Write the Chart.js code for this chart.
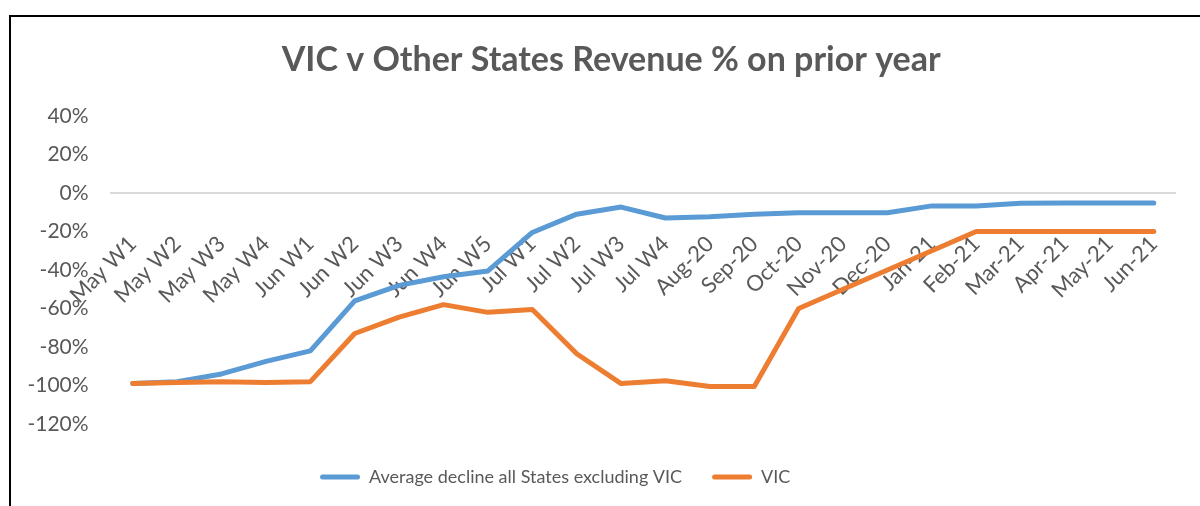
<!DOCTYPE html>
<html>
<head>
<meta charset="utf-8">
<script src="https://cdn.jsdelivr.net/npm/chart.js@4/dist/chart.umd.min.js"></script>
<style>
  html, body { margin: 0; padding: 0; background: #fff; overflow: hidden; }
  #frame { position: absolute; left: 9px; top: 15px; width: 1300px; height: 600px;
           border-top: 2px solid #000; border-left: 2px solid #000; }
  #myChart { position: absolute; left: 11px; top: 17px; }
</style>
</head>
<body>
<div id="frame"></div>
<canvas id="myChart" width="1200" height="520"></canvas>
<script>
const xLabels = [
    "May W1", "May W2", "May W3", "May W4", "Jun W1", "Jun W2", "Jun W3", "Jun W4", "Jun W5",
    "Jul W1", "Jul W2", "Jul W3", "Jul W4", "Aug-20", "Sep-20", "Oct-20", "Nov-20", "Dec-20",
    "Jan-21", "Feb-21", "Mar-21", "Apr-21", "May-21", "Jun-21"
];
const otherStates = [
    -99, -98, -94, -87.5, -82, -56, -48, -43.5, -40.5,
    -20.5, -11, -7.3, -13, -12.4, -11, -10.3, -10.3, -10.3,
    -6.7, -6.7, -5.3, -5.2, -5.2, -5.2
];
const vicValues = [
    -99, -98.5, -98, -98.5, -98, -73, -64.5, -58, -62,
    -60.5, -83.5, -99, -97.5, -100.5, -100.5, -60, -50, -40,
    -30, -20, -20, -20, -20, -20
];
const seriesNames = ["Average decline all States excluding VIC", "VIC"];
const seriesColors = ["#5B9BD5", "#ED7D31"];

const textGrey = "#595959";
const fontName = "Lato, 'Open Sans', sans-serif";

// nudge title / legend to where the original sits
const shiftBoxes = {
    id: "shiftBoxes",
    afterLayout(chart) {
        chart.titleBlock.left += 13;
        chart.titleBlock.right += 13;
        chart.legend.left -= 43;
        chart.legend.right -= 43;
        chart.legend.top += 14;
        chart.legend.bottom += 14;
    }
};

new Chart("myChart", {
    type: "line",
    data: {
        labels: xLabels,
        datasets: [{
            label: seriesNames[0],
            data: otherStates,
            borderColor: seriesColors[0],
            backgroundColor: seriesColors[0],
            order: 1
        }, {
            label: seriesNames[1],
            data: vicValues,
            borderColor: seriesColors[1],
            backgroundColor: seriesColors[1],
            order: 0
        }]
    },
    options: {
        responsive: false,
        animation: false,
        elements: {
            point: { radius: 0, hoverRadius: 0 },
            line: { borderWidth: 5, tension: 0, borderCapStyle: "round", borderJoinStyle: "round" }
        },
        layout: { padding: { left: 0, right: 25.6, top: 0, bottom: 55 } },
        scales: {
            x: {
                position: { y: 0 },
                offset: true,
                grid: { display: false, drawTicks: false },
                border: { display: true, color: "#d9d9d9", width: 2 },
                ticks: {
                    autoSkip: false,
                    minRotation: 45,
                    maxRotation: 45,
                    padding: 38,
                    color: textGrey,
                    font: { family: fontName, size: 22 }
                }
            },
            y: {
                min: -120,
                max: 40,
                afterFit(scale) { scale.width = 99.6; },
                grid: { display: false, drawTicks: false },
                border: { display: false },
                ticks: {
                    stepSize: 20,
                    padding: 22,
                    color: textGrey,
                    font: { family: fontName, size: 21 },
                    callback: v => v + "%"
                }
            }
        },
        plugins: {
            title: {
                display: true,
                text: "VIC v Other States Revenue % on prior year",
                color: textGrey,
                font: { family: fontName, size: 34, weight: "bold" },
                padding: { top: 22.6, bottom: 35.6 }
            },
            legend: {
                position: "bottom",
                labels: {
                    boxWidth: 40,
                    boxHeight: 5,
                    padding: 30,
                    color: textGrey,
                    useBorderRadius: true,
                    borderRadius: 2.5,
                    font: { family: fontName, size: 18 },
                    sort: (a, b) => a.datasetIndex - b.datasetIndex,
                    generateLabels(chart) {
                        const items = Chart.defaults.plugins.legend.labels.generateLabels(chart);
                        items.forEach(it => { it.fillStyle = it.strokeStyle; it.lineWidth = 0; });
                        return items;
                    }
                }
            },
            tooltip: { enabled: false }
        }
    },
    plugins: [shiftBoxes]
});
</script>
</body>
</html>
